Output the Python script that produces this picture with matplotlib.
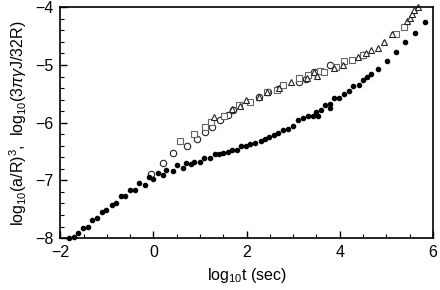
import matplotlib
matplotlib.use('Agg')
import matplotlib.pyplot as plt
from matplotlib.ticker import MultipleLocator

plt.rcParams['font.family'] = ['Liberation Sans', 'DejaVu Sans']
plt.rcParams['mathtext.fontset'] = 'custom'
plt.rcParams['mathtext.rm'] = 'Liberation Sans'
plt.rcParams['mathtext.it'] = 'Liberation Sans:italic'

# filled dots: log10(a/R)^3
dot_x = [-1.81, -1.71, -1.61, -1.51, -1.41, -1.31, -1.21, -1.11, -1.01, -0.90,
         -0.80, -0.70, -0.60, -0.51, -0.39, -0.30, -0.18, -0.10, 0.00, 0.09,
         0.21, 0.26, 0.42, 0.51, 0.63, 0.70, 0.81, 0.86, 0.99, 1.09,
         1.21, 1.32, 1.40, 1.50, 1.60, 1.69, 1.80, 1.88, 1.99, 2.08,
         2.17, 2.30, 2.39, 2.49, 2.59, 2.68, 2.78, 2.88, 3.00, 3.10,
         3.20, 3.31, 3.42, 3.48, 3.54, 3.60, 3.69, 3.78, 3.80, 3.87,
         3.99, 4.10, 4.20, 4.29, 4.41, 4.49, 4.59, 4.67, 4.81, 5.01,
         5.20, 5.40, 5.61, 5.82]
dot_y = [-8.00, -7.98, -7.92, -7.82, -7.80, -7.69, -7.66, -7.54, -7.52, -7.42,
         -7.39, -7.27, -7.27, -7.17, -7.17, -7.05, -7.08, -6.95, -6.98, -6.87,
         -6.91, -6.82, -6.83, -6.73, -6.78, -6.70, -6.72, -6.68, -6.68, -6.62,
         -6.62, -6.55, -6.55, -6.52, -6.51, -6.47, -6.47, -6.40, -6.40, -6.37,
         -6.35, -6.31, -6.28, -6.25, -6.21, -6.18, -6.13, -6.11, -6.06, -5.95,
         -5.92, -5.88, -5.88, -5.81, -5.88, -5.78, -5.69, -5.75, -5.68, -5.58,
         -5.58, -5.50, -5.45, -5.36, -5.34, -5.26, -5.21, -5.16, -5.07, -4.93,
         -4.78, -4.61, -4.44, -4.25]

# open circles
circ_x = [-0.05, 0.20, 0.41, 0.71, 0.94, 1.10, 1.26, 1.42, 1.60, 1.70,
          2.26, 2.45, 2.67, 3.12, 3.28, 3.45, 3.79, 4.50]
circ_y = [-6.89, -6.70, -6.53, -6.40, -6.28, -6.17, -6.07, -5.95, -5.87, -5.78,
          -5.55, -5.47, -5.42, -5.29, -5.24, -5.12, -5.00, -4.83]

# open squares
sq_x = [0.58, 0.88, 1.10, 1.24, 1.51, 1.83, 2.08, 2.43, 2.65, 2.79,
        3.13, 3.31, 3.58, 3.67, 3.92, 4.10, 4.27, 4.50, 5.20, 5.38]
sq_y = [-6.32, -6.20, -6.07, -5.98, -5.88, -5.69, -5.64, -5.47, -5.43, -5.35,
        -5.23, -5.17, -5.10, -5.12, -5.03, -4.94, -4.91, -4.83, -4.47, -4.34]

# open triangles
tri_x = [1.29, 1.69, 1.85, 1.98, 2.26, 2.43, 2.69, 2.96, 3.30, 3.45,
         3.52, 3.88, 4.06, 4.40, 4.56, 4.68, 4.81, 4.94, 5.12, 5.45,
         5.50, 5.56, 5.60, 5.67]
tri_y = [-5.91, -5.77, -5.71, -5.61, -5.55, -5.47, -5.40, -5.29, -5.22, -5.12,
         -5.19, -5.06, -5.00, -4.87, -4.80, -4.74, -4.70, -4.61, -4.47, -4.23,
         -4.18, -4.12, -4.05, -4.00]

fig = plt.figure(figsize=(4.4, 2.9), dpi=100)
ax = fig.add_axes([0.137, 0.179, 0.847, 0.796])

ax.plot(circ_x, circ_y, 'o', ms=4.6, mfc='white', mec='#222222', mew=0.8, clip_on=False)
ax.plot(sq_x, sq_y, 's', ms=4.4, mfc='white', mec='#666666', mew=0.8, clip_on=False)
ax.plot(tri_x, tri_y, '^', ms=5, mfc='white', mec='#222222', mew=0.8, clip_on=False)
ax.plot(dot_x, dot_y, 'o', ms=3.0, color='black', clip_on=False)

ax.set_xlim(-2, 6)
ax.set_ylim(-8, -4)
ax.xaxis.set_major_locator(MultipleLocator(2))
ax.xaxis.set_minor_locator(MultipleLocator(0.5))
ax.yaxis.set_major_locator(MultipleLocator(1))
ax.yaxis.set_minor_locator(MultipleLocator(0.2))
ax.tick_params(which='both', direction='in', top=False, right=False, labelsize=11.5)
ax.tick_params(which='major', length=5, width=1, pad=5)
ax.tick_params(which='minor', length=3, width=0.8)
for s in ax.spines.values():
    s.set_linewidth(1.2)

ax.set_xlabel(r'log$_{10}$t (sec)', fontsize=11.5)
ax.set_ylabel(r'log$_{10}$(a/R)$^3$,  log$_{10}$(3$\pi$$\mathit{\gamma}$J/32R)', fontsize=11.5)

fig.savefig('out.png', dpi=100)
